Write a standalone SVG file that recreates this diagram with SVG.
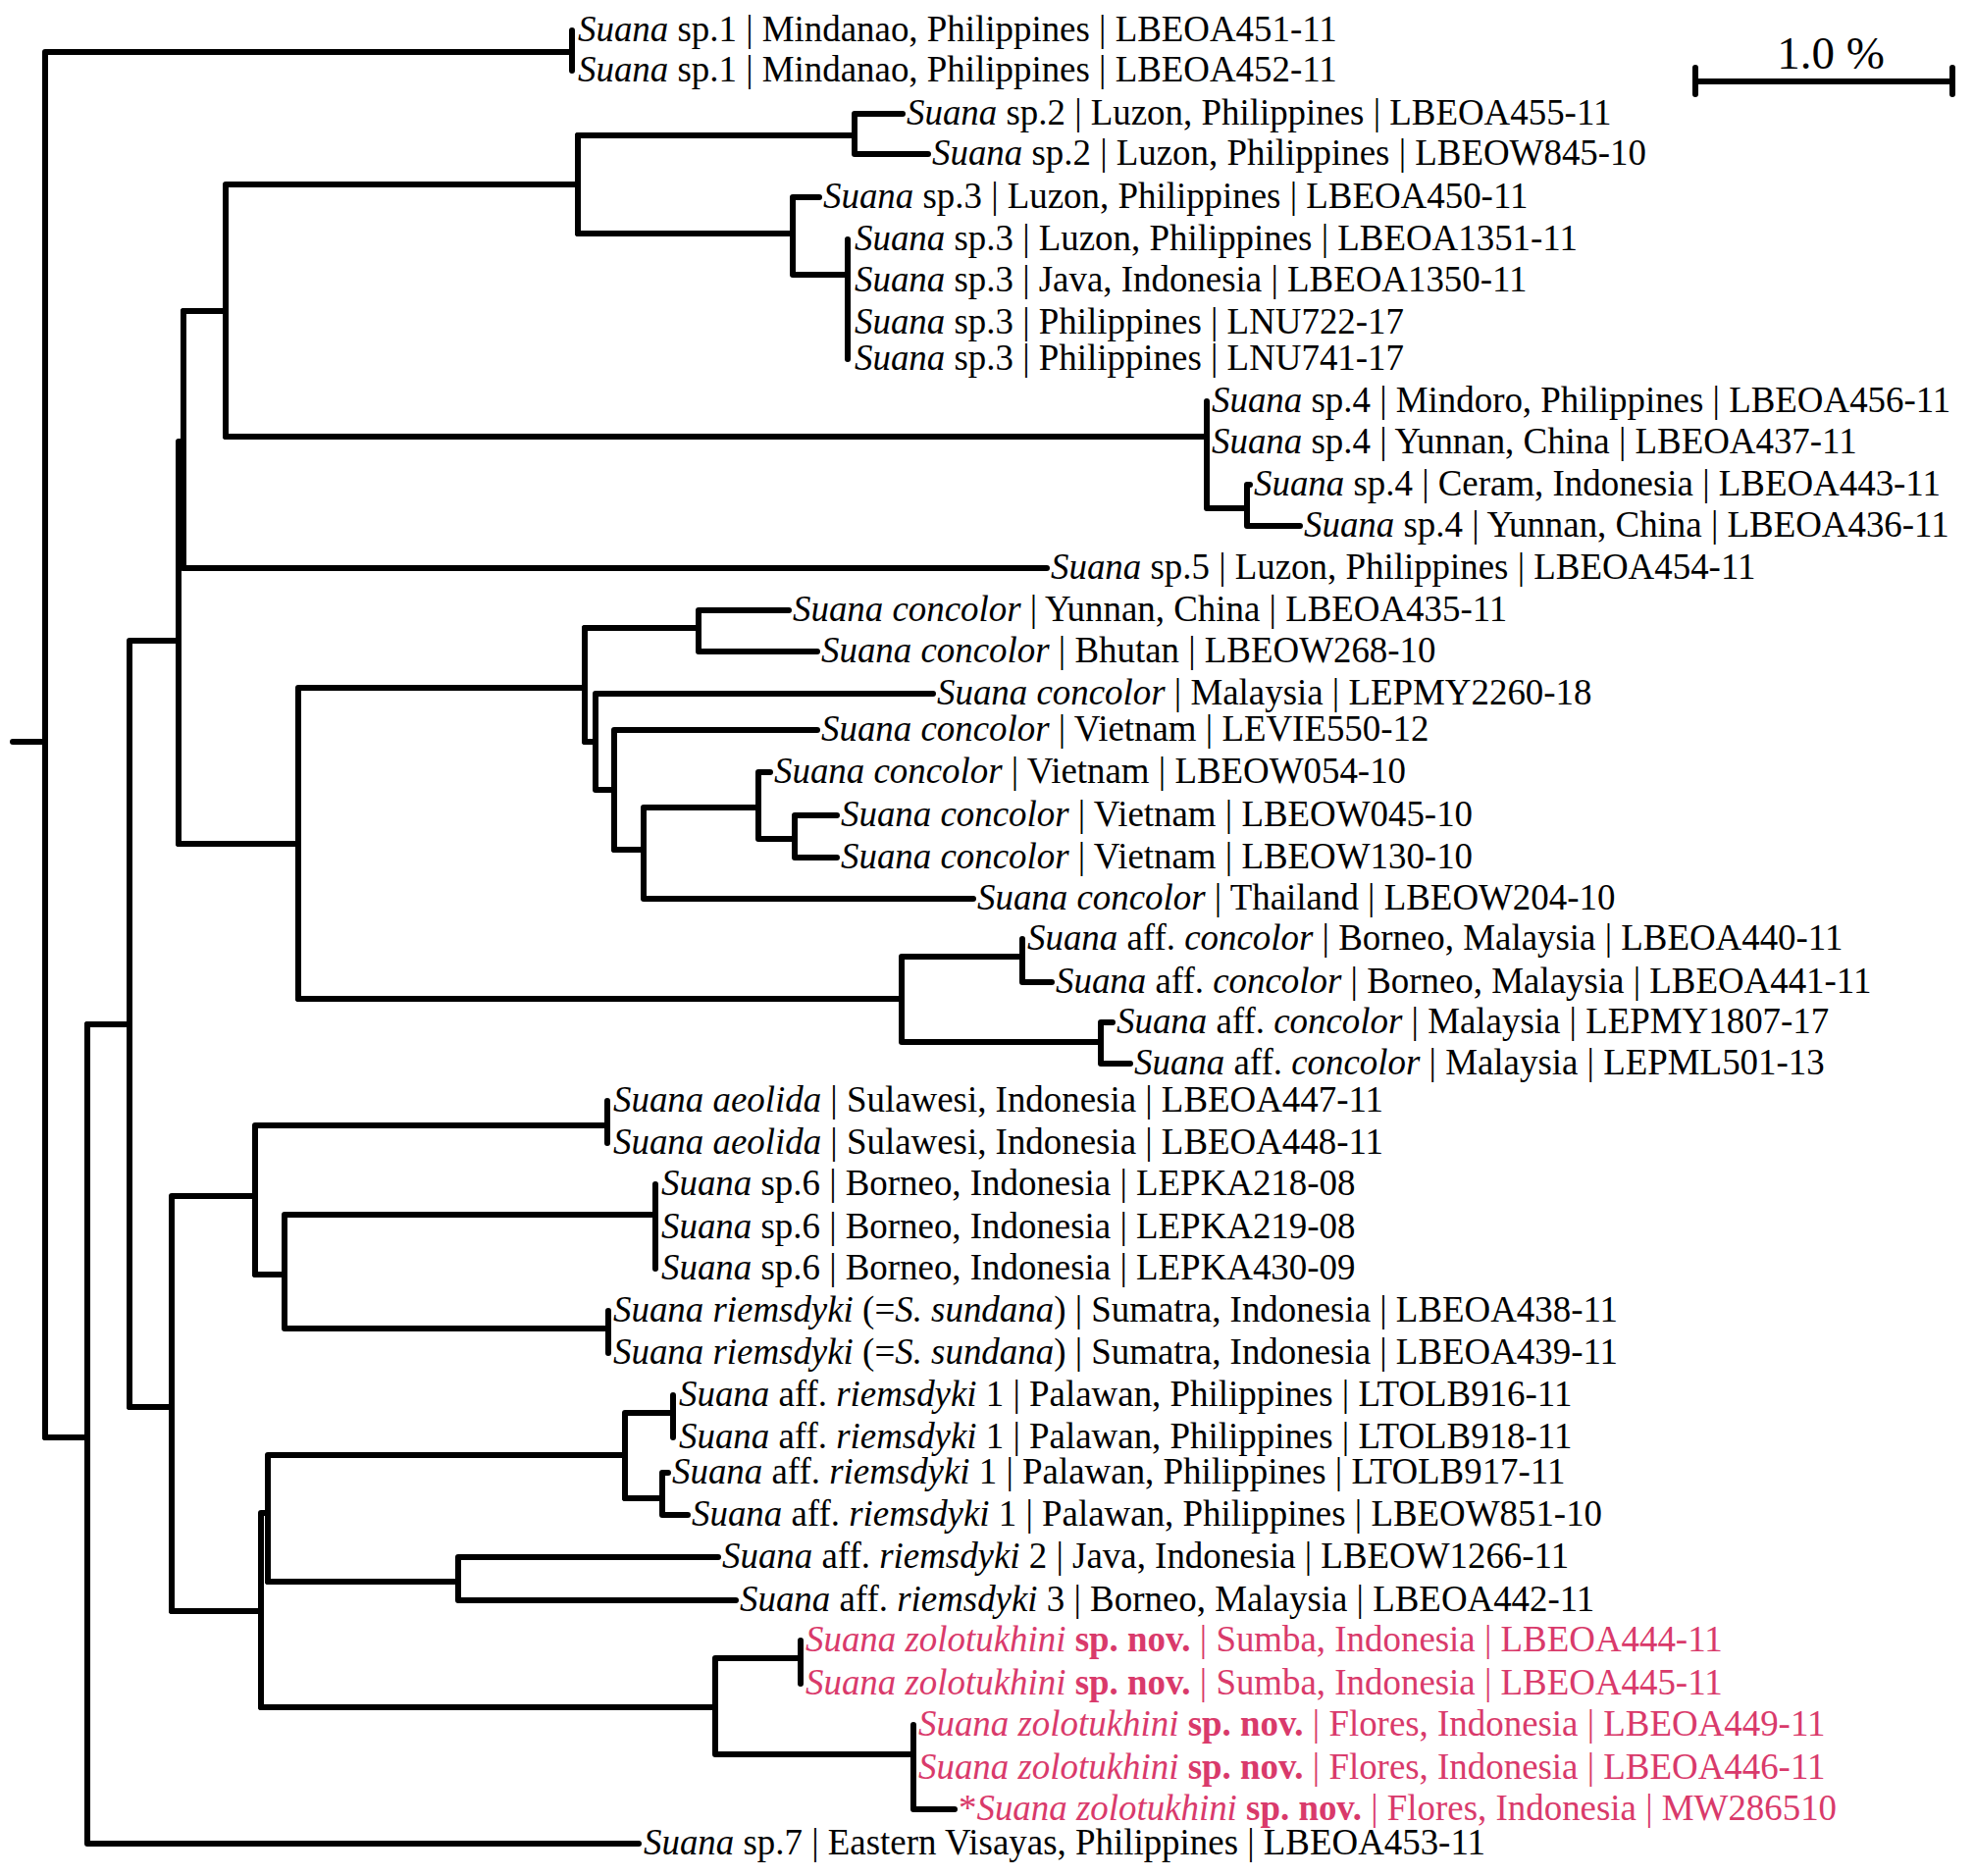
<svg xmlns="http://www.w3.org/2000/svg" width="2012" height="1912" viewBox="0 0 2012 1912">
<style>
.e{fill:none;stroke:#000;stroke-width:6;stroke-linecap:round;stroke-linejoin:round}
text{font-family:"Liberation Serif","Times New Roman",serif;font-size:36.9px;fill:#000}
.i{font-style:italic}
.b{font-weight:bold}
.r{fill:#D93A6B}
.r tspan{fill:#D93A6B}
</style>
<rect width="2012" height="1912" fill="#fff"/>
<g id="connectors" class="e">
<path d="M13,756H46M46,53V1465M46,53H583M583,31V72"/>
<path d="M46,1465H89M89,1044V1879M89,1879H651"/>
<path d="M89,1044H132M132,653V1434M132,653H182M182,450V860M182,450H187M187,317V579"/>
<path d="M187,317H230M230,188V445M230,188H589M589,138V238"/>
<path d="M589,138H871M871,116V157M871,116H920M871,157H946"/>
<path d="M589,238H808M808,201V280M808,201H835M808,280H864M864,244V366"/>
<path d="M230,445H1230M1230,409V518M1230,518H1271M1271,494V536M1271,494H1274M1271,536H1325"/>
<path d="M187,579H1067"/>
<path d="M182,860H304M304,701V1018M304,701H596M596,640V756"/>
<path d="M596,640H712M712,622V664M712,622H804M712,664H833"/>
<path d="M596,756H607M607,707V805M607,707H951M607,805H626M626,744V866M626,744H833"/>
<path d="M626,866H656M656,823V916M656,916H992M656,823H773M773,787V855M773,787H785M773,855H810M810,831V874M810,831H853M810,874H853"/>
<path d="M304,1018H919M919,975V1062M919,975H1042M1042,957V1001M1042,1001H1072M919,1062H1122M1122,1042V1084M1122,1042H1134M1122,1084H1152"/>
<path d="M132,1434H175M175,1219V1642M175,1219H260M260,1147V1299M260,1147H619M619,1122V1165"/>
<path d="M260,1299H290M290,1238V1354M290,1238H668M668,1207V1293M290,1354H620M620,1336V1379"/>
<path d="M175,1642H266M266,1542V1740M266,1542H273M273,1483V1612M273,1483H637M637,1440V1527M637,1440H686M686,1422V1465"/>
<path d="M637,1527H675M675,1501V1544M675,1501H681M675,1544H701"/>
<path d="M273,1612H467M467,1587V1631M467,1587H732M467,1631H750"/>
<path d="M266,1740H729M729,1690V1788M729,1690H816M816,1672V1716M729,1788H931M931,1758V1844M931,1844H973"/>
</g>
<g id="scalebar">
<path class="e" d="M1728,83H1990M1728,69V96M1990,69V96"/>
<text x="1866" y="70" text-anchor="middle" style="font-size:47px">1.0 %</text>
</g>
<g id="n1"><text x="589" y="42"><tspan class="i">Suana</tspan> sp.1 | Mindanao, Philippines | LBEOA451-11</text></g>
<g id="n2"><text x="589" y="83"><tspan class="i">Suana</tspan> sp.1 | Mindanao, Philippines | LBEOA452-11</text></g>
<g id="n3"><text x="924" y="127"><tspan class="i">Suana</tspan> sp.2 | Luzon, Philippines | LBEOA455-11</text></g>
<g id="n4"><text x="950" y="168"><tspan class="i">Suana</tspan> sp.2 | Luzon, Philippines | LBEOW845-10</text></g>
<g id="n5"><text x="839" y="212"><tspan class="i">Suana</tspan> sp.3 | Luzon, Philippines | LBEOA450-11</text></g>
<g id="n6"><text x="871" y="255"><tspan class="i">Suana</tspan> sp.3 | Luzon, Philippines | LBEOA1351-11</text></g>
<g id="n7"><text x="871" y="297"><tspan class="i">Suana</tspan> sp.3 | Java, Indonesia | LBEOA1350-11</text></g>
<g id="n8"><text x="871" y="340"><tspan class="i">Suana</tspan> sp.3 | Philippines | LNU722-17</text></g>
<g id="n9"><text x="871" y="377"><tspan class="i">Suana</tspan> sp.3 | Philippines | LNU741-17</text></g>
<g id="n10"><text x="1235" y="420"><tspan class="i">Suana</tspan> sp.4 | Mindoro, Philippines | LBEOA456-11</text></g>
<g id="n11"><text x="1235" y="462"><tspan class="i">Suana</tspan> sp.4 | Yunnan, China | LBEOA437-11</text></g>
<g id="n12"><text x="1278" y="505"><tspan class="i">Suana</tspan> sp.4 | Ceram, Indonesia | LBEOA443-11</text></g>
<g id="n13"><text x="1329" y="547"><tspan class="i">Suana</tspan> sp.4 | Yunnan, China | LBEOA436-11</text></g>
<g id="n14"><text x="1071" y="590"><tspan class="i">Suana</tspan> sp.5 | Luzon, Philippines | LBEOA454-11</text></g>
<g id="n15"><text x="808" y="633"><tspan class="i">Suana concolor</tspan> | Yunnan, China | LBEOA435-11</text></g>
<g id="n16"><text x="837" y="675"><tspan class="i">Suana concolor</tspan> | Bhutan | LBEOW268-10</text></g>
<g id="n17"><text x="955" y="718"><tspan class="i">Suana concolor</tspan> | Malaysia | LEPMY2260-18</text></g>
<g id="n18"><text x="837" y="755"><tspan class="i">Suana concolor</tspan> | Vietnam | LEVIE550-12</text></g>
<g id="n19"><text x="789" y="798"><tspan class="i">Suana concolor</tspan> | Vietnam | LBEOW054-10</text></g>
<g id="n20"><text x="857" y="842"><tspan class="i">Suana concolor</tspan> | Vietnam | LBEOW045-10</text></g>
<g id="n21"><text x="857" y="885"><tspan class="i">Suana concolor</tspan> | Vietnam | LBEOW130-10</text></g>
<g id="n22"><text x="996" y="927"><tspan class="i">Suana concolor</tspan> | Thailand | LBEOW204-10</text></g>
<g id="n23"><text x="1047" y="968"><tspan class="i">Suana</tspan> aff. <tspan class="i">concolor</tspan> | Borneo, Malaysia | LBEOA440-11</text></g>
<g id="n24"><text x="1076" y="1012"><tspan class="i">Suana</tspan> aff. <tspan class="i">concolor</tspan> | Borneo, Malaysia | LBEOA441-11</text></g>
<g id="n25"><text x="1138" y="1053"><tspan class="i">Suana</tspan> aff. <tspan class="i">concolor</tspan> | Malaysia | LEPMY1807-17</text></g>
<g id="n26"><text x="1156" y="1095"><tspan class="i">Suana</tspan> aff. <tspan class="i">concolor</tspan> | Malaysia | LEPML501-13</text></g>
<g id="n27"><text x="625" y="1133"><tspan class="i">Suana aeolida</tspan> | Sulawesi, Indonesia | LBEOA447-11</text></g>
<g id="n28"><text x="625" y="1176"><tspan class="i">Suana aeolida</tspan> | Sulawesi, Indonesia | LBEOA448-11</text></g>
<g id="n29"><text x="674" y="1218"><tspan class="i">Suana</tspan> sp.6 | Borneo, Indonesia | LEPKA218-08</text></g>
<g id="n30"><text x="674" y="1262"><tspan class="i">Suana</tspan> sp.6 | Borneo, Indonesia | LEPKA219-08</text></g>
<g id="n31"><text x="674" y="1304"><tspan class="i">Suana</tspan> sp.6 | Borneo, Indonesia | LEPKA430-09</text></g>
<g id="n32"><text x="625" y="1347"><tspan class="i">Suana riemsdyki</tspan> (=<tspan class="i">S. sundana</tspan>) | Sumatra, Indonesia | LBEOA438-11</text></g>
<g id="n33"><text x="625" y="1390"><tspan class="i">Suana riemsdyki</tspan> (=<tspan class="i">S. sundana</tspan>) | Sumatra, Indonesia | LBEOA439-11</text></g>
<g id="n34"><text x="692" y="1433"><tspan class="i">Suana</tspan> aff. <tspan class="i">riemsdyki</tspan> 1 | Palawan, Philippines | LTOLB916-11</text></g>
<g id="n35"><text x="692" y="1476"><tspan class="i">Suana</tspan> aff. <tspan class="i">riemsdyki</tspan> 1 | Palawan, Philippines | LTOLB918-11</text></g>
<g id="n36"><text x="685" y="1512"><tspan class="i">Suana</tspan> aff. <tspan class="i">riemsdyki</tspan> 1 | Palawan, Philippines | LTOLB917-11</text></g>
<g id="n37"><text x="705" y="1555"><tspan class="i">Suana</tspan> aff. <tspan class="i">riemsdyki</tspan> 1 | Palawan, Philippines | LBEOW851-10</text></g>
<g id="n38"><text x="736" y="1598"><tspan class="i">Suana</tspan> aff. <tspan class="i">riemsdyki</tspan> 2 | Java, Indonesia | LBEOW1266-11</text></g>
<g id="n39"><text x="754" y="1642"><tspan class="i">Suana</tspan> aff. <tspan class="i">riemsdyki</tspan> 3 | Borneo, Malaysia | LBEOA442-11</text></g>
<g id="n40"><text class="r" x="821" y="1683"><tspan class="i">Suana zolotukhini</tspan> <tspan class="b">sp. nov.</tspan> | Sumba, Indonesia | LBEOA444-11</text></g>
<g id="n41"><text class="r" x="821" y="1727"><tspan class="i">Suana zolotukhini</tspan> <tspan class="b">sp. nov.</tspan> | Sumba, Indonesia | LBEOA445-11</text></g>
<g id="n42"><text class="r" x="936" y="1769"><tspan class="i">Suana zolotukhini</tspan> <tspan class="b">sp. nov.</tspan> | Flores, Indonesia | LBEOA449-11</text></g>
<g id="n43"><text class="r" x="936" y="1813"><tspan class="i">Suana zolotukhini</tspan> <tspan class="b">sp. nov.</tspan> | Flores, Indonesia | LBEOA446-11</text></g>
<g id="n44"><text class="r" x="977" y="1855">*<tspan class="i">Suana zolotukhini</tspan> <tspan class="b">sp. nov.</tspan> | Flores, Indonesia | MW286510</text></g>
<g id="n45"><text x="656" y="1890"><tspan class="i">Suana</tspan> sp.7 | Eastern Visayas, Philippines | LBEOA453-11</text></g>
</svg>
